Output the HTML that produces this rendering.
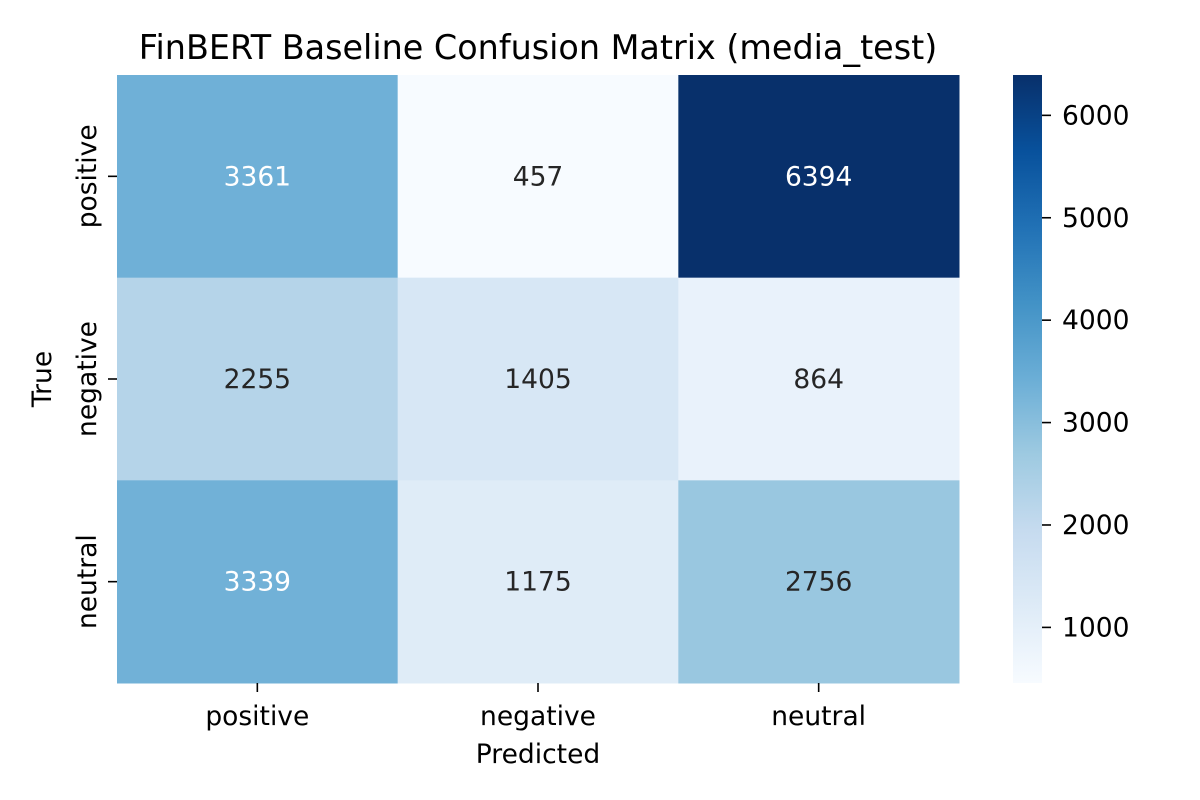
<!DOCTYPE html>
<html><head><meta charset="utf-8"><style>
body{margin:0;background:#fff;}
svg{display:block;font-family:"DejaVu Sans","Liberation Sans",sans-serif;}
</style></head><body>
<svg id="chart" width="1200" height="800"></svg>
<script>
const rowLabels = ["positive","negative","neutral"];
const colLabels = ["positive","negative","neutral"];
const row0 = [3361, 457, 6394];
const row1 = [2255, 1405, 864];
const row2 = [3339, 1175, 2756];
const cbTicks = [1000,2000,3000,4000,5000,6000];
const matrix = [row0,row1,row2];

const svg = document.getElementById('chart');
const NS = 'http://www.w3.org/2000/svg';
function mk(tag, attrs, parent){const e=document.createElementNS(NS,tag);for(const k in attrs)e.setAttribute(k,attrs[k]);(parent||svg).appendChild(e);return e;}
const L=117,R=959,T=75,B=683;
const all=matrix.flat();
const vmin=Math.min(...all), vmax=Math.max(...all);
const stops=["#f7fbff","#deebf7","#c6dbef","#9ecae1","#6baed6","#4292c6","#2171b5","#08519c","#08306b"].map(h=>[1,3,5].map(i=>parseInt(h.substr(i,2),16)));
function cmap(t){t=Math.max(0,Math.min(1,t));const p=t*8,i=Math.min(7,Math.floor(p)),f=p-i;return stops[i].map((c,j)=>c+(stops[i+1][j]-c)*f);}
function lum(c){const l=c.map(v=>{v/=255;return v<=0.03928?v/12.92:Math.pow((v+0.055)/1.055,2.4)});return 0.2126*l[0]+0.7152*l[1]+0.0722*l[2];}
const cw=(R-L)/colLabels.length, ch=(B-T)/rowLabels.length;
const xs=i=>L+i*cw, ys=j=>T+j*ch;

let t=mk('text',{x:538,y:59,'text-anchor':'middle','font-size':33.4,fill:'#000'});t.textContent='FinBERT Baseline Confusion Matrix (media_test)';



matrix.forEach((row,j)=>row.forEach((v,i)=>{
  const c=cmap((v-vmin)/(vmax-vmin));
  const r=mk('rect',{x:xs(i),y:ys(j),width:cw+0.5,height:ch+0.5,fill:`rgb(${c.map(Math.round).join(',')})`});
  
  
  const tx=mk('text',{x:xs(i)+cw/2,y:ys(j)+ch/2+9,'text-anchor':'middle','font-size':26.5,fill:lum(c)<0.408?'#fff':'#262626'});
  tx.textContent=v;
  
  
}));

colLabels.forEach((lab,i)=>{
  const x=xs(i)+cw/2;
  mk('line',{x1:x,x2:x,y1:B,y2:B+9,stroke:'#000','stroke-width':1.6});
  const tx=mk('text',{x:x,y:B+42,'text-anchor':'middle','font-size':26.5});tx.textContent=lab;
  
  
});
rowLabels.forEach((lab,j)=>{
  const y=ys(j)+ch/2;
  mk('line',{x1:L-9,x2:L,y1:y,y2:y,stroke:'#000','stroke-width':1.6});
  const tx=mk('text',{x:0,y:0,'text-anchor':'middle','font-size':26.5,transform:`translate(96,${y}) rotate(-90)`});tx.textContent=lab;
  
  
});
let xt=mk('text',{x:538,y:763,'text-anchor':'middle','font-size':26.5});xt.textContent='Predicted';


let yt=mk('text',{x:0,y:0,'text-anchor':'middle','font-size':26.5,transform:'translate(51,379) rotate(-90)'});yt.textContent='True';



const CX=1013,CW=29;
const defs=mk('defs',{});
const g=mk('linearGradient',{id:'cb',x1:0,y1:1,x2:0,y2:0},defs);
stops.forEach((c,k)=>mk('stop',{offset:k/8,'stop-color':`rgb(${c.join(',')})`},g));
const cb=mk('rect',{x:CX,y:T,width:CW,height:B-T,fill:'url(#cb)'});


cbTicks.forEach(v=>{
  const y=B-(v-vmin)/(vmax-vmin)*(B-T);
  mk('line',{x1:CX+CW,x2:CX+CW+9,y1:y,y2:y,stroke:'#000','stroke-width':1.6});
  const tx=mk('text',{x:CX+CW+20,y:y+9,'font-size':26.5});tx.textContent=v;
  
  
});
</script>
</body></html>
